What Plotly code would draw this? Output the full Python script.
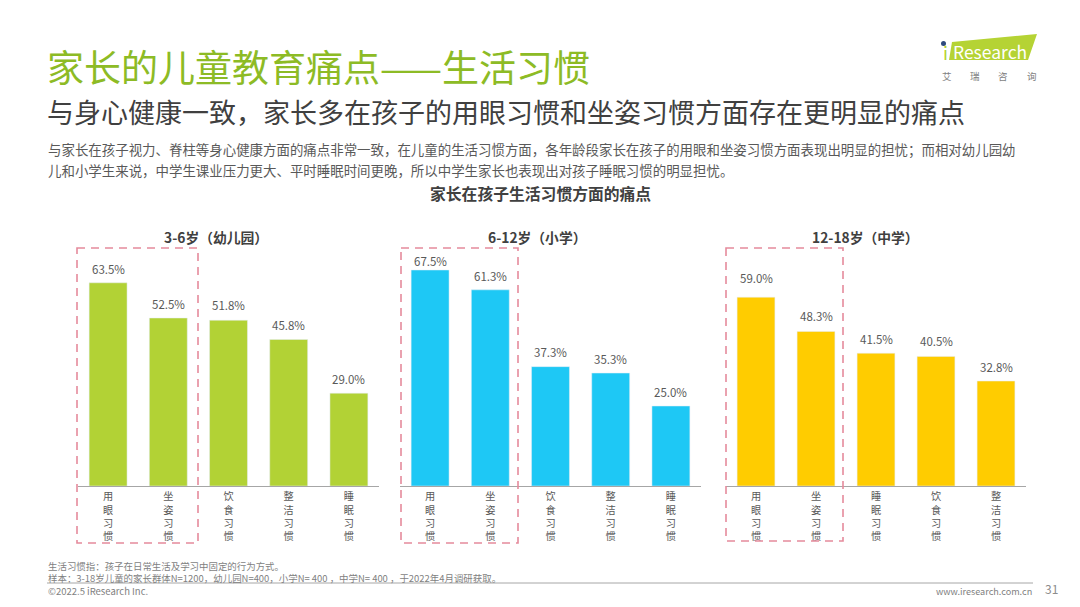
import plotly.graph_objects as go
from plotly.subplots import make_subplots

W, H = 1080, 607
FONT = "Noto Sans CJK SC"

groups = ["3-6岁（幼儿园）", "6-12岁（小学）", "12-18岁（中学）"]
cats_kinder = ["用眼习惯", "坐姿习惯", "饮食习惯", "整洁习惯", "睡眠习惯"]
cats_primary = ["用眼习惯", "坐姿习惯", "饮食习惯", "整洁习惯", "睡眠习惯"]
cats_middle = ["用眼习惯", "坐姿习惯", "睡眠习惯", "饮食习惯", "整洁习惯"]
vals_kinder = [63.5, 52.5, 51.8, 45.8, 29.0]
vals_primary = [67.5, 61.3, 37.3, 35.3, 25.0]
vals_middle = [59.0, 48.3, 41.5, 40.5, 32.8]
colors = ["#b2d235", "#1ec8f5", "#ffcc00"]
# gap in px between bar top and its value label
shift_kinder = [14, 14, 15, 14, 14]
shift_primary = [9, 14, 15, 14, 14]
shift_middle = [19, 15, 14, 15, 14]

title = "家长的儿童教育痛点——生活习惯"
subtitle = "与身心健康一致，家长多在孩子的用眼习惯和坐姿习惯方面存在更明显的痛点"
body_1 = "与家长在孩子视力、脊柱等身心健康方面的痛点非常一致，在儿童的生活习惯方面，各年龄段家长在孩子的用眼和坐姿习惯方面表现出明显的担忧；而相对幼儿园幼"
body_2 = "儿和小学生来说，中学生课业压力更大、平时睡眠时间更晚，所以中学生家长也表现出对孩子睡眠习惯的明显担忧。"
chart_title = "家长在孩子生活习惯方面的痛点"
note_1 = "生活习惯指：孩子在日常生活及学习中固定的行为方式。"
note_2 = "样本：3-18岁儿童的家长群体N=1200，幼儿园N=400，小学N= 400 ，中学N= 400 ，于2022年4月调研获取。"


def px(x):
    return x / W


def py(y):
    return 1 - y / H


def label(text, x, y, size, color, anchor="left", bold=False):
    if bold:
        text = f"<b>{text}</b>"
    fig.add_annotation(text=text, x=px(x), y=py(y), xref="paper", yref="paper", xanchor=anchor, yanchor="middle",
                       align=anchor, showarrow=False, font=dict(size=size, color=color, family=FONT))


def dash_box(x0, y0, x1, y1):
    fig.add_shape(type="rect", xref="paper", yref="paper", x0=px(x0), x1=px(x1), y0=py(y0), y1=py(y1),
                  line=dict(color="#e58a9c", width=1.6, dash="8px,6px"))


fig = make_subplots(rows=1, cols=3)

series = [(cats_kinder, vals_kinder, shift_kinder), (cats_primary, vals_primary, shift_primary),
          (cats_middle, vals_middle, shift_middle)]
spans = [(78, 379), (400, 701), (726, 1026)]
for i, (cats, vals, shifts) in enumerate(series):
    fig.add_trace(go.Bar(x=list(range(5)), y=vals, marker_color=colors[i], width=0.63, cliponaxis=False),
                  row=1, col=i + 1)
    fig.update_xaxes(domain=[px(spans[i][0]), px(spans[i][1])], tickmode="array", tickvals=list(range(5)),
                     ticktext=["<br>".join(c) for c in cats], range=[-0.5, 4.5], showgrid=False,
                     showline=True, linecolor="#a6a6a6", linewidth=1.2, ticks="", ticklabelstandoff=1,
                     tickfont=dict(size=10.2, color="#595959", family=FONT), row=1, col=i + 1)
    fig.update_yaxes(domain=[py(486), py(230)], range=[0, 80], visible=False, row=1, col=i + 1)
    for j, v in enumerate(vals):
        fig.add_annotation(text=f"{v:.1f}%", x=j, y=v, yshift=shifts[j], yanchor="middle", showarrow=False,
                           font=dict(size=11.5, color="#595959", family=FONT), row=1, col=i + 1)

fig.update_layout(width=W, height=H, margin=dict(l=0, r=0, t=0, b=0), showlegend=False,
                  plot_bgcolor="white", paper_bgcolor="white", font=dict(family=FONT))

label(title, 45, 66, 37, "#8dbb25")
label(subtitle, 45, 111.5, 27, "#404040")
label(body_1, 46, 149, 13.45, "#595959")
label(body_2, 46, 170, 13.45, "#595959")
label(chart_title, 540, 194, 15.8, "#404040", anchor="center", bold=True)
for name, x in zip(groups, [216, 537, 865]):
    label(name, x, 237, 13.8, "#404040", anchor="center", bold=True)

dash_box(77, 248, 198, 543)
dash_box(401, 248, 518, 543)
dash_box(726, 248, 843, 541)

label(note_1 + "<br>" + note_2, 46, 571.5, 9.45, "#7f7f7f")
fig.add_shape(type="line", xref="paper", yref="paper", x0=px(47), x1=px(1033), y0=py(583), y1=py(583),
              line=dict(color="#a6a6a6", width=1))
label("©2022.5 iResearch Inc.", 46, 591, 9.5, "#7f7f7f")
label("www.iresearch.com.cn", 1034, 591, 9.1, "#7f7f7f", anchor="right")
label("31", 1060, 588, 12, "#8c8c8c", anchor="right")

# logo
fig.add_shape(type="path", xref="paper", yref="paper", fillcolor="#b5d334", line_width=0,
              path=f"M {px(952)} {py(42)} L {px(1037)} {py(34)} L {px(1028)} {py(60)} L {px(949)} {py(60)} Z")
fig.add_shape(type="circle", xref="paper", yref="paper", fillcolor="#2f4a7d", line_width=0,
              x0=px(941), x1=px(946), y0=py(41), y1=py(46))
label("i", 941, 52, 18, "#b5d334")
label("Research", 951, 51, 17.5, "white")
for ch, x in zip("艾瑞咨询", [947, 975, 1003, 1032]):
    label(ch, x, 76, 9.5, "#7f7f7f", anchor="center")

fig.write_html("out.html", post_script="document.body.style.margin = '0';",
               config=dict(displayModeBar=False))
